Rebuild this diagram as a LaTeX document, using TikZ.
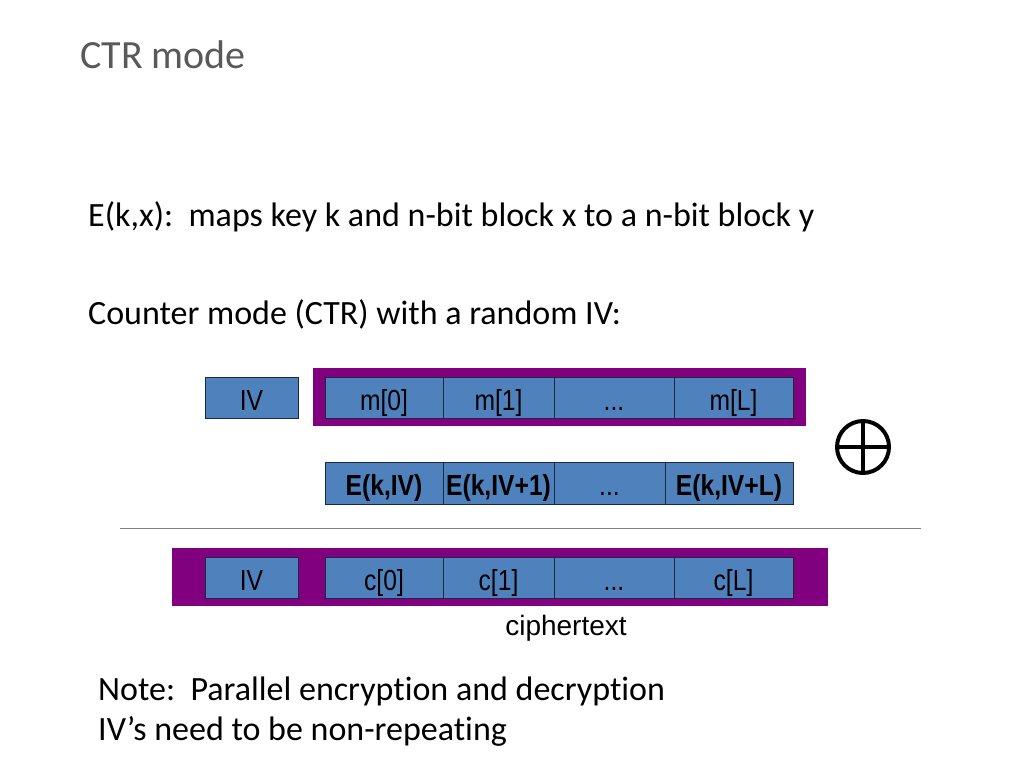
\documentclass[tikz,border=0pt]{standalone}
\usepackage{fontspec}
\setmainfont{Carlito}[Ligatures=NoCommon]
\newfontfamily\cellfont{Liberation Sans}[FakeStretch=0.85]
\newfontfamily\labelfont{Liberation Sans}
\definecolor{cellblue}{HTML}{4F81BD}
\definecolor{cellline}{HTML}{1C2A40}
\definecolor{framepurple}{HTML}{800080}
\definecolor{titlegray}{HTML}{595959}
\begin{document}
\begin{tikzpicture}[x=1pt,y=-1pt,
    cell/.style ={rectangle, draw=cellline, fill=cellblue, inner sep=0pt, minimum height=41pt, text height=29pt, text depth=4pt, font=\cellfont\fontsize{29}{29}\selectfont},
    boldcell/.style ={cell, minimum height=42pt, font=\cellfont\bfseries\fontsize{29}{29}\selectfont},
    frame/.style ={rectangle, fill=framepurple, inner sep=0pt},
    slidetext/.style ={anchor=base west, inner sep=0pt, font=\fontsize{34}{40}\selectfont}]
   \useasboundingbox[fill=white] (0,0) rectangle (1024,768);
   % text of the slide
   \node[slidetext, text=titlegray, font=\fontsize{40}{48}\selectfont] (title) at (80,68) {CTR mode};
   \node[slidetext] (defn)  at (88,226)  {E(k,x):\ \ maps key k and n-bit block x to a n-bit block y};
   \node[slidetext] (intro) at (88,324)  {Counter mode (CTR) with a random IV:};
   \node[slidetext] (note1) at (98,700)  {Note:\ \ Parallel encryption and decryption};
   \node[slidetext] (note2) at (98,740)  {IV’s need to be non-repeating};
   % message row
   \node[frame, minimum width=493pt, minimum height=58pt] (mframe) at (559.5,397) {};
   \node[cell, minimum width=93pt]  (iv)    at (251.5,397.5) {IV};
   \node[cell, minimum width=118pt] (m0)    at (384,397.5)   {m[0]};
   \node[cell, minimum width=111pt] (m1)    at (498.5,397.5) {m[1]};
   \node[cell, minimum width=120pt] (mdots) at (614,397.5)   {...};
   \node[cell, minimum width=119pt] (mL)    at (733.5,397.5) {m[L]};
   % key stream row
   \node[boldcell, minimum width=118pt] (e0)    at (384,483)   {E(k,IV)};
   \node[boldcell, minimum width=111pt] (e1)    at (498.5,483) {E(k,IV+1)};
   \node[cell, minimum width=111pt, minimum height=42pt] (edots) at (609.5,483) {...};
   \node[boldcell, minimum width=128pt] (eL)    at (729,483)   {E(k,IV+L)};
   \node[circle, draw, line width=4pt, minimum size=52pt, inner sep=0pt] (xor) at (863,447) {};
   \draw[line width=4pt] (xor.north) -- (xor.south);
   \draw[line width=4pt] (xor.west) -- (xor.east);
   \coordinate (rulel) at (120,528);
   \coordinate (ruler) at (921,528);
   \draw[gray, thin] (rulel) -- (ruler);
   % ciphertext row
   \node[frame, minimum width=656pt, minimum height=58pt] (cframe) at (500,577) {};
   \node[cell, minimum width=93pt]  (civ)   at (251.5,577.5) {IV};
   \node[cell, minimum width=118pt] (c0)    at (384,577.5)   {c[0]};
   \node[cell, minimum width=111pt] (c1)    at (498.5,577.5) {c[1]};
   \node[cell, minimum width=120pt] (cdots) at (614,577.5)   {...};
   \node[cell, minimum width=119pt] (cL)    at (733.5,577.5) {c[L]};
   \node[font=\labelfont\fontsize{28}{28}\selectfont] (ctext) at (566,628) {ciphertext};
\end{tikzpicture}
\end{document}
